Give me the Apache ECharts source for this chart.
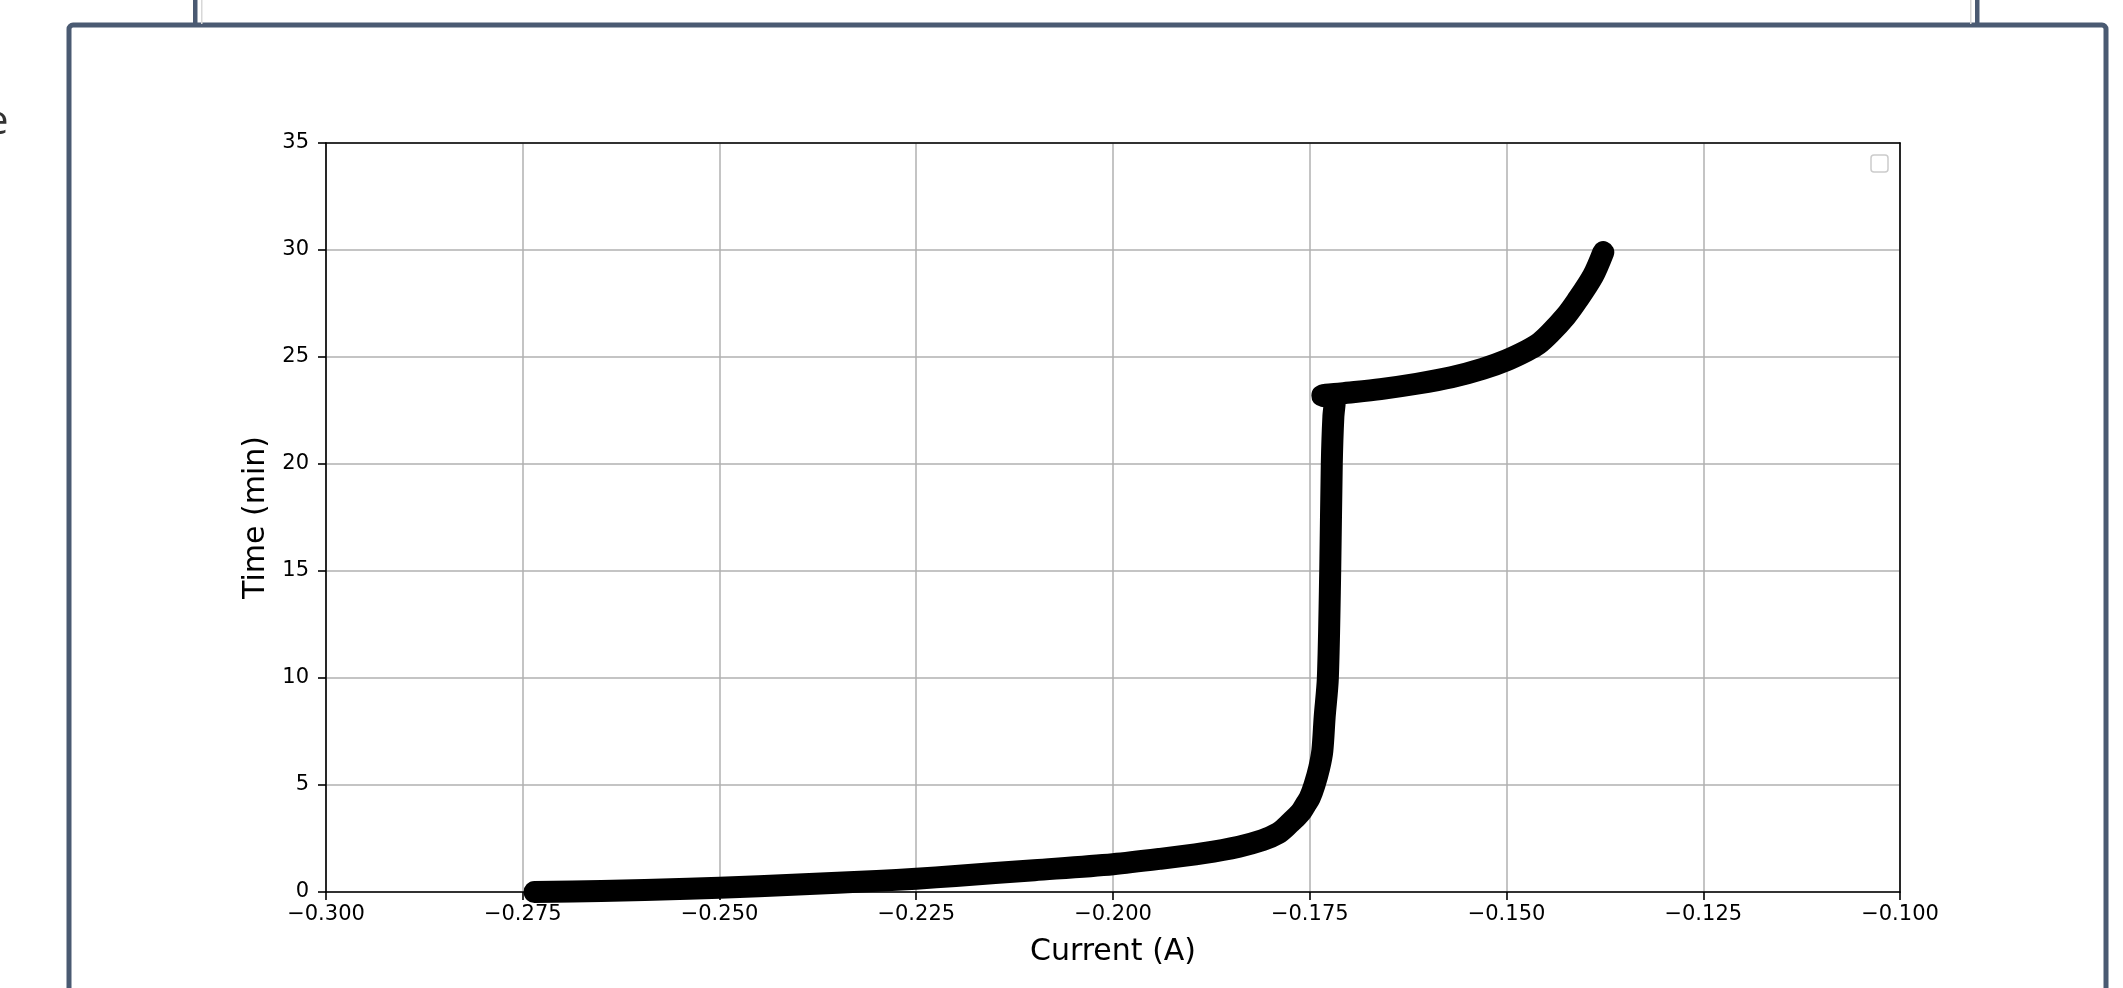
<!DOCTYPE html>
<html>
<head>
<meta charset="utf-8">
<script src="https://cdn.jsdelivr.net/npm/echarts@6/dist/echarts.min.js"></script>
<style>
  html, body { margin: 0; padding: 0; background: #ffffff; }
  #chart { width: 2123px; height: 988px; }
</style>
</head>
<body>
<div id="chart"></div>
<script>
// Values
const currentA = [
  -0.2735, -0.2650, -0.2540, -0.2500, -0.2400, -0.2300, -0.2250, -0.2200,
  -0.2100, -0.2000, -0.1940, -0.1885, -0.1840, -0.1810, -0.1790, -0.1780,
  -0.1773, -0.1766, -0.1760, -0.1755, -0.1750, -0.1744, -0.1738, -0.1734,
  -0.1731, -0.1727, -0.1724, -0.1722, -0.1720, -0.1718, -0.1734, -0.1710,
  -0.1660, -0.1614, -0.1570, -0.1530, -0.1500, -0.1474, -0.1460, -0.1445,
  -0.1425, -0.1411, -0.1390, -0.1377
];
const timeMin = [
  0.00, 0.05, 0.15, 0.20, 0.35, 0.52, 0.62, 0.75,
  1.02, 1.30, 1.55, 1.82, 2.12, 2.42, 2.75, 3.05,
  3.30, 3.55, 3.80, 4.10, 4.40, 5.00, 5.80, 6.60,
  8.20, 10.0, 15.0, 20.0, 22.2, 23.0, 23.2, 23.3,
  23.5, 23.75, 24.05, 24.45, 24.85, 25.3, 25.6, 26.1,
  26.9, 27.6, 28.8, 29.9
];
const xTicks = { min: -0.300, max: -0.100, step: 0.025 };
const yTicks = { min: 0, max: 35, step: 5 };
const xTitle = 'Current (A)';
const yTitle = 'Time (min)';

const points = currentA.map((c, i) => [c, timeMin[i]]);

const chart = echarts.init(document.getElementById('chart'), null, { renderer: 'canvas' });
const font = 'DejaVu Sans';
const fmtX = v => {
  const r = Math.round(v * 1000) / 1000;
  return (r < 0 ? '\u2212' : '') + Math.abs(r).toFixed(3);
};
const spine = { color: '#000', width: 1.6 };

chart.setOption({
  animation: false,
  backgroundColor: '#ffffff',
  grid: { left: 326, right: 223, top: 143, bottom: 96 },
  xAxis: [{
    type: 'value', position: 'bottom',
    min: xTicks.min, max: xTicks.max, interval: xTicks.step,
    name: xTitle, nameLocation: 'middle', nameGap: 45,
    nameTextStyle: { fontFamily: font, fontSize: 30, color: '#000' },
    axisLine: { show: true, onZero: false, lineStyle: spine },
    axisTick: { show: true, inside: false, length: 8, lineStyle: spine },
    axisLabel: { formatter: fmtX, fontFamily: font, fontSize: 21, color: '#000', margin: 12 },
    splitLine: { show: true, lineStyle: { color: '#b0b0b0', width: 1.5 } }
  }, {
    type: 'value', position: 'top',
    min: xTicks.min, max: xTicks.max, interval: xTicks.step,
    axisLine: { show: true, onZero: false, lineStyle: spine },
    axisTick: { show: false }, axisLabel: { show: false }, splitLine: { show: false }
  }],
  yAxis: [{
    type: 'value', position: 'left',
    min: yTicks.min, max: yTicks.max, interval: yTicks.step,
    name: yTitle, nameLocation: 'middle', nameGap: 48,
    nameTextStyle: { fontFamily: font, fontSize: 30, color: '#000' },
    axisLine: { show: true, onZero: false, lineStyle: spine },
    axisTick: { show: true, inside: false, length: 8, lineStyle: spine },
    axisLabel: { fontFamily: font, fontSize: 21, color: '#000', margin: 17 },
    splitLine: { show: true, lineStyle: { color: '#b0b0b0', width: 1.5 } }
  }, {
    type: 'value', position: 'right',
    min: yTicks.min, max: yTicks.max, interval: yTicks.step,
    axisLine: { show: true, onZero: false, lineStyle: spine },
    axisTick: { show: false }, axisLabel: { show: false }, splitLine: { show: false }
  }],
  series: [{
    type: 'line',
    xAxisIndex: 0, yAxisIndex: 0,
    data: points,
    showSymbol: false,
    clip: true,
    smooth: 0.3,
    lineStyle: { color: '#000000', width: 22, cap: 'round', join: 'round' },
    z: 5
  }],
  graphic: [
    // outer dialog frame
    { type: 'rect', z: 100, silent: true,
      shape: { x: 69, y: 25, width: 2037, height: 1100, r: 4 },
      style: { fill: 'none', stroke: '#4a5a72', lineWidth: 5 } },
    // window behind, visible above the frame
    { type: 'rect', z: 100, silent: true, shape: { x: 193, y: 0, width: 4.5, height: 24 }, style: { fill: '#4a5a72' } },
    { type: 'rect', z: 100, silent: true, shape: { x: 201, y: 0, width: 1.5, height: 24 }, style: { fill: '#d8d8d8' } },
    { type: 'rect', z: 100, silent: true, shape: { x: 1975, y: 0, width: 4.5, height: 24 }, style: { fill: '#4a5a72' } },
    { type: 'rect', z: 100, silent: true, shape: { x: 1970, y: 0, width: 1.5, height: 24 }, style: { fill: '#d8d8d8' } },
    // partial character at the far left edge
    { type: 'text', z: 100, silent: true, x: -14, y: 123,
      style: { text: 'e', font: '40px "Open Sans"', fill: '#333', verticalAlign: 'middle' } },
    // empty legend box
    { type: 'rect', z: 100, silent: true,
      shape: { x: 1871, y: 155, width: 17, height: 17, r: 3 },
      style: { fill: '#ffffff', stroke: '#cccccc', lineWidth: 1.5 } }
  ]
});
</script>
</body>
</html>
